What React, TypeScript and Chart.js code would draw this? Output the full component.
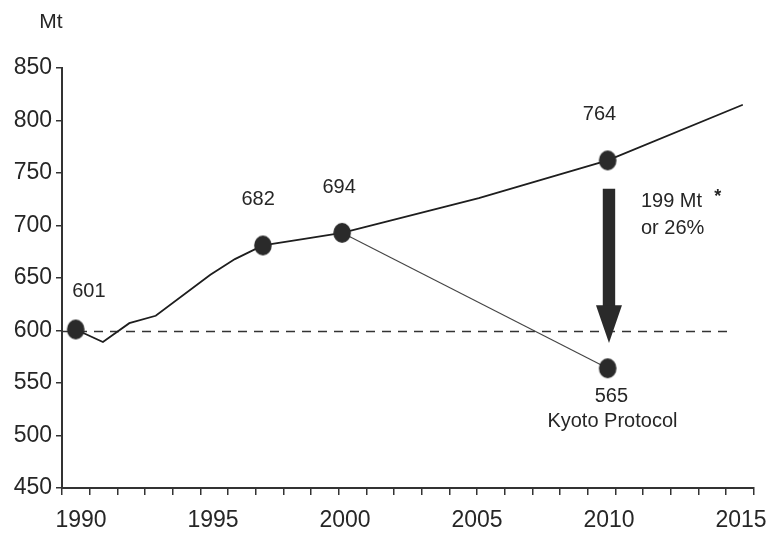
import React, { useEffect, useRef } from 'react';
import { Chart, registerables } from 'chart.js';

Chart.register(...registerables);

// ---- data ----
const emissionYears = [1989.8, 1990.83, 1991.83, 1992.83, 1994.9, 1995.83, 1996.89, 1998.4, 1999.89, 2005.07, 2009.95, 2015.07];
const emissionValues = [601, 589, 607, 614, 653, 668, 681, 687, 693, 726, 762, 815];
const markedIndices = [0, 6, 8, 10];

const kyotoYears = [1999.89, 2009.95];
const kyotoValues = [693, 564];

const baselineYears = [1989.28, 2014.62];
const baselineValues = [599, 599];

const arrowYear = 2010;
const arrowFrom = 735;
const arrowHeadBase = 624;
const arrowTo = 588;

const yTickValues = [450, 500, 550, 600, 650, 700, 750, 800, 850];
const xLabelYears = [1990, 1995, 2000, 2005, 2010, 2015];
const tickMarkRange = [1990, 2015];

const labelTexts = ['601', '682', '694', '764', '565', 'Kyoto Protocol', '199 Mt', 'or 26%', '*'];
const labelYears = [1990.3, 1996.71, 1999.78, 2009.64, 2010.09, 2010.13, 2011.21, 2011.21, 2014.12];
const labelValues = [637.6, 725.2, 736.6, 806.2, 536.7, 512.9, 723.3, 696.7, 727];
const labelAligns: CanvasTextAlign[] = ['center', 'center', 'center', 'center', 'center', 'center', 'left', 'left', 'center'];

const unitLabel = 'Mt';

const FONT = "'Liberation Sans', Arial, sans-serif";
const INK = '#262626';

function makeMarker(): HTMLCanvasElement {
  const c = document.createElement('canvas');
  c.width = 20;
  c.height = 22;
  const g = c.getContext('2d')!;
  g.fillStyle = '#2a2a2a';
  g.beginPath();
  g.ellipse(10, 11, 8.8, 10, 0, 0, Math.PI * 2);
  g.fill();
  return c;
}

export default function App() {
  const ref = useRef<HTMLCanvasElement | null>(null);

  useEffect(() => {
    if (!ref.current) return;
    const marker = makeMarker();

    const mainData = emissionYears.map((x, i) => ({ x, y: emissionValues[i] }));
    const kyotoData = kyotoYears.map((x, i) => ({ x, y: kyotoValues[i] }));
    const baseData = baselineYears.map((x, i) => ({ x, y: baselineValues[i] }));

    const overlay = {
      id: 'overlay',
      afterDatasetsDraw(chart: any) {
        const ctx = chart.ctx as CanvasRenderingContext2D;
        const xs = chart.scales.x;
        const ys = chart.scales.y;
        ctx.save();
        // arrow
        const ax = xs.getPixelForValue(arrowYear);
        const y0 = ys.getPixelForValue(arrowFrom);
        const y1 = ys.getPixelForValue(arrowHeadBase);
        const y2 = ys.getPixelForValue(arrowTo);
        ctx.fillStyle = '#2a2a2a';
        ctx.fillRect(ax - 6.2, y0, 12.4, y1 - y0 + 1);
        ctx.beginPath();
        ctx.moveTo(ax - 13, y1);
        ctx.lineTo(ax + 13, y1);
        ctx.lineTo(ax, y2);
        ctx.closePath();
        ctx.fill();
        // labels
        ctx.fillStyle = INK;
        ctx.textBaseline = 'middle';
        labelTexts.forEach((t, i) => {
          const isStar = t === '*';
          ctx.font = isStar ? `bold 18px ${FONT}` : `20px ${FONT}`;
          ctx.textAlign = labelAligns[i];
          ctx.fillText(t, xs.getPixelForValue(labelYears[i]), ys.getPixelForValue(labelValues[i]));
        });
        // unit
        ctx.font = `21px ${FONT}`;
        ctx.textAlign = 'center';
        ctx.fillText(unitLabel, ys.right - 11, chart.chartArea.top - 46);
        ctx.restore();
      },
    };

    const chart = new Chart(ref.current, {
      type: 'line',
      data: {
        datasets: [
          {
            data: mainData,
            borderColor: '#1e1e1e',
            borderWidth: 1.8,
            tension: 0,
            pointStyle: mainData.map((_, i) => (markedIndices.includes(i) ? marker : 'circle')) as any,
            pointRadius: mainData.map((_, i) => (markedIndices.includes(i) ? 9 : 0)),
            order: 1,
          },
          {
            data: kyotoData,
            borderColor: '#444',
            borderWidth: 1.1,
            tension: 0,
            pointStyle: [false, marker] as any,
            pointRadius: [0, 9],
            order: 2,
          },
          {
            data: baseData,
            borderColor: '#333',
            borderWidth: 1.6,
            borderDash: [9, 7],
            pointRadius: 0,
            order: 3,
          },
        ],
      },
      options: {
        responsive: false,
        animation: false,
        events: [],
        layout: { padding: { top: 68, right: 17, left: 0, bottom: 0 } },
        plugins: { legend: { display: false }, tooltip: { enabled: false } },
        scales: {
          x: {
            type: 'linear',
            position: 'bottom',
            weight: 1,
            min: 1989.28,
            max: 2015.48,
            afterBuildTicks: (s: any) => {
              s.ticks = xLabelYears.map((v) => ({ value: v }));
            },
            afterFit: (s: any) => {
              s.height = 37;
            },
            grid: { display: false, drawTicks: false },
            border: { display: false },
            ticks: {
              padding: 11,
              color: INK,
              font: { family: FONT, size: 23 },
              maxRotation: 0,
              autoSkip: false,
              callback: (v: any) => String(v),
            },
          },
          xt: {
            type: 'linear',
            position: 'bottom',
            weight: 0,
            min: tickMarkRange[0],
            max: tickMarkRange[1],
            afterFit: (s: any) => {
              s.height = 8;
            },
            grid: { drawOnChartArea: false, drawTicks: true, tickLength: 7, color: '#333', lineWidth: 1.5 },
            border: { display: true, color: '#333', width: 2 },
            ticks: { stepSize: 1, autoSkip: false, maxRotation: 0, padding: 0, font: { size: 1 }, callback: () => '' },
          },
          y: {
            type: 'linear',
            min: 450,
            max: 850,
            afterBuildTicks: (s: any) => {
              s.ticks = yTickValues.map((v) => ({ value: v }));
            },
            afterFit: (s: any) => {
              s.width = 62;
            },
            grid: { drawOnChartArea: false, drawTicks: true, tickLength: 6, color: '#333', lineWidth: 1.5 },
            border: { display: true, color: '#333', width: 2 },
            ticks: {
              padding: 4,
              color: INK,
              font: { family: FONT, size: 23 },
              callback: (v: any) => String(v),
            },
          },
        },
      },
      plugins: [overlay],
    } as any);

    return () => chart.destroy();
  }, []);

  return (
    <div style={{ position: 'fixed', left: 0, top: 0, width: 778, height: 533, background: '#fff' }}>
      <canvas ref={ref} width={778} height={533} style={{ display: 'block', width: 778, height: 533 }} />
    </div>
  );
}
